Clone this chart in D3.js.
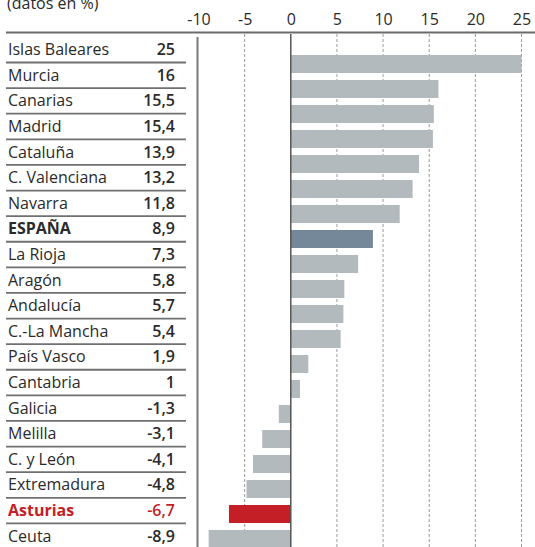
<!DOCTYPE html>
<html>
<head>
<meta charset="utf-8">
<script src="https://cdn.jsdelivr.net/npm/d3@7"></script>
<style>
  body { margin: 0; background: #fff; }
  svg { display: block; font-family: "Open Sans", "Noto Sans", sans-serif; }
</style>
</head>
<body>
<script>
// regions, top to bottom
var regions = ["Islas Baleares", "Murcia", "Canarias", "Madrid", "Cataluña",
  "C. Valenciana", "Navarra", "ESPAÑA", "La Rioja", "Aragón", "Andalucía",
  "C.-La Mancha", "País Vasco", "Cantabria", "Galicia", "Melilla",
  "C. y León", "Extremadura", "Asturias", "Ceuta"];
var values = [25, 16, 15.5, 15.4, 13.9, 13.2, 11.8, 8.9, 7.3, 5.8, 5.7,
  5.4, 1.9, 1, -1.3, -3.1, -4.1, -4.8, -6.7, -8.9];
var tickValues = [-10, -5, 0, 5, 10, 15, 20, 25];
var title = "(datos en %)";
var national = "ESPAÑA";
var highlight = "Asturias";

var data = regions.map(function(r, i) { return {region: r, value: values[i]}; });

var width = 535, height = 547;

// spanish number format, plain hyphen as minus
var es = d3.formatLocale({decimal: ",", thousands: ".", grouping: [3], currency: ["", "€"], minus: "-"});
var fmt = function(v) { return Number.isInteger(v) ? es.format("d")(v) : es.format(".1f")(v); };

var svg = d3.select("body").append("svg")
    .attr("width", width)
    .attr("height", height);

/** SCALES */
var x = d3.scaleLinear()
          .domain([-10, 25])
          .range([198.5, 521.5]);

// bars step a little tighter than the text rows (as in the print original)
var yBar = d3.scaleBand()
          .domain(regions)
          .range([48, 555])
          .padding(0.28);

var yLabel = d3.scalePoint()
          .domain(regions)
          .range([49.5, 536]);

var colorOf = function(d) {
  if (d.region === national) return "#74889a";
  if (d.region === highlight) return "#c41e27";
  return "#b3babe";
};
var textColor = function(d) { return d.region === highlight ? "#c41e27" : "#2a2a2a"; };

// title (cut at the top, like the scan)
svg.append("text")
    .attr("x", 7)
    .attr("y", 9)
    .attr("font-size", 16)
    .attr("fill", "#2a2a2a")
    .text(title);

// header rule
svg.append("line")
    .attr("x1", 6).attr("x2", width)
    .attr("y1", 32.5).attr("y2", 32.5)
    .attr("stroke", "#6b6b6b")
    .attr("stroke-width", 2);

// x axis labels on top
var xAxis = svg.append("g")
    .attr("transform", "translate(0,25)")
    .call(d3.axisTop(x).tickValues(tickValues).tickFormat(fmt).tickSize(0).tickPadding(0));
xAxis.select(".domain").remove();
xAxis.selectAll("text")
    .attr("font-size", 16)
    .attr("font-family", "\"Open Sans\", sans-serif")
    .attr("fill", "#2a2a2a");

// dashed grid
svg.append("g")
  .selectAll("line")
  .data(tickValues.filter(function(t) { return t !== 0 && t !== -10; }))
  .enter().append("line")
    .attr("x1", function(d) { return x(d); })
    .attr("x2", function(d) { return x(d); })
    .attr("y1", 34)
    .attr("y2", height)
    .attr("stroke", "#9a9a9a")
    .attr("stroke-width", 1)
    .attr("stroke-dasharray", "3,2");

// left frame line at -10
svg.append("line")
    .attr("x1", x(-10) - 1).attr("x2", x(-10) - 1)
    .attr("y1", 37).attr("y2", height)
    .attr("stroke", "#777")
    .attr("stroke-width", 2);

// bars
svg.selectAll(".bar")
    .data(data)
  .enter().append("rect")
    .attr("class", "bar")
    .attr("x", function(d) { return x(Math.min(0, d.value)); })
    .attr("width", function(d) { return Math.abs(x(d.value) - x(0)); })
    .attr("y", function(d) { return yBar(d.region); })
    .attr("height", yBar.bandwidth())
    .attr("fill", colorOf);

// zero line
svg.append("line")
    .attr("x1", x(0)).attr("x2", x(0))
    .attr("y1", 34).attr("y2", height)
    .attr("stroke", "#555")
    .attr("stroke-width", 1.5);

// table: names and values
var rows = svg.selectAll(".row")
    .data(data)
  .enter().append("g")
    .attr("class", "row")
    .attr("transform", function(d) { return "translate(0," + yLabel(d.region) + ")"; });

rows.append("text")
    .attr("x", 8)
    .attr("dy", "0.35em")
    .attr("font-size", 16)
    .attr("font-weight", function(d) { return (d.region === national || d.region === highlight) ? "bold" : "normal"; })
    .attr("fill", textColor)
    .text(function(d) { return d.region; });

rows.append("text")
    .attr("x", 175)
    .attr("dy", "0.35em")
    .attr("text-anchor", "end")
    .attr("font-size", 16)
    .attr("font-weight", 600)
    .attr("fill", textColor)
    .text(function(d) { return fmt(d.value); });

// row separators
svg.append("g")
  .selectAll("line")
  .data(regions.slice(0, -1))
  .enter().append("line")
    .attr("x1", 6).attr("x2", 186)
    .attr("y1", function(d) { return yLabel(d) + 13; })
    .attr("y2", function(d) { return yLabel(d) + 13; })
    .attr("stroke", "#707070")
    .attr("stroke-width", 1.8);
</script>
</body>
</html>
